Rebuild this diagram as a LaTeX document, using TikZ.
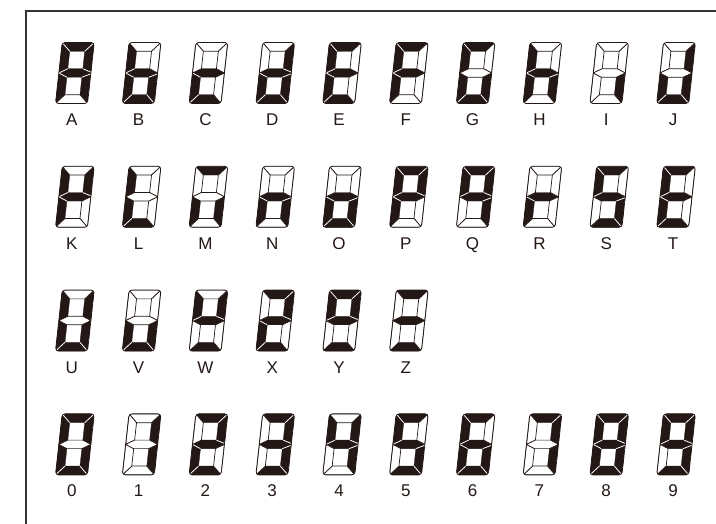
\documentclass[tikz,border=0pt]{standalone}
\usepackage{fontspec}
\setmainfont{Liberation Sans}
\definecolor{ink}{HTML}{231815}
\makeatletter
\def\sg@a{(0,61) -- (32,61) -- (23.5,52.2) -- (8.5,52.2) -- cycle}
\def\sg@b{(32,61) -- (32,30.5) -- (23.5,34.75) -- (23.5,52.2) -- cycle}
\def\sg@c{(32,30.5) -- (32,0) -- (23.5,8.8) -- (23.5,26.25) -- cycle}
\def\sg@d{(0,0) -- (32,0) -- (23.5,8.8) -- (8.5,8.8) -- cycle}
\def\sg@e{(0,0) -- (0,30.5) -- (8.5,26.25) -- (8.5,8.8) -- cycle}
\def\sg@f{(0,30.5) -- (0,61) -- (8.5,52.2) -- (8.5,34.75) -- cycle}
\def\sg@g{(0,30.5) -- (8.5,34.75) -- (23.5,34.75) -- (32,30.5) -- (23.5,26.25) -- (8.5,26.25) -- cycle}
\newcommand\drawsegs[2]{%
  \foreach \s in {a,b,c,d,e,f,g}{%
    \edef\sg@tmp{\noexpand\in@{\s}{#1}}\sg@tmp
    \ifnum#2=1
      \ifin@\edef\sg@cmd{\noexpand\path[onseg] \csname sg@\s\endcsname;}\sg@cmd\fi
    \else
      \ifin@\else\edef\sg@cmd{\noexpand\path[offseg] \csname sg@\s\endcsname;}\sg@cmd\fi
    \fi}}
% white separator between two lit segments
\newcommand\sepif[5]{% #1 list, #2 #3 segments, #4 #5 end points
  \in@{#2}{#1}\ifin@\in@{#3}{#1}\ifin@\draw[sepline] (#4) -- (#5);\fi\fi}
\newcommand\seps[1]{%
  \sepif{#1}{a}{f}{-1,62}{8.5,52.2}%
  \sepif{#1}{a}{b}{33,62}{23.5,52.2}%
  \sepif{#1}{f}{g}{-1,30}{8.5,34.75}%
  \sepif{#1}{e}{g}{-1,31}{8.5,26.25}%
  \sepif{#1}{b}{g}{33,31}{23.5,34.75}%
  \sepif{#1}{c}{g}{33,30}{23.5,26.25}%
  \sepif{#1}{d}{e}{-1,-1}{8.5,8.8}%
  \sepif{#1}{d}{c}{33,-1}{23.5,8.8}}
\newcommand\sevdigit[4]{% #1 x, #2 y, #3 label, #4 lit segments
  \begin{scope}[shift={(#1,#2)},xslant=0.11]
    \begin{scope}
      \clip[rounded corners=3pt] (0,0) -- (32,0) -- (32,61) -- (0,61) -- cycle;
      \drawsegs{#4}{1}
      \seps{#4}
      \drawsegs{#4}{0}
    \end{scope}
    \draw[digitframe] (0,0) -- (32,0) -- (32,61) -- (0,61) -- cycle;
  \end{scope}
  \node[lbl] (lbl#3) at (#1+16.3,#2-22) {#3};}
\makeatother
\tikzset{
  onseg/.style={fill=ink, draw=ink, line width=0.3pt, line join=miter},
  offseg/.style={fill=white, draw=ink, line width=0.7pt, line join=miter},
  sepline/.style={draw=white, line width=0.8pt},
  digitframe/.style={draw=ink, line width=0.8pt, rounded corners=3pt},
  lbl/.style={anchor=base, inner sep=0pt, text=ink, font=\fontsize{17}{20}\selectfont},
  framel/.style={draw=black!80, line width=1.2pt}
}
\begin{document}
\begin{tikzpicture}[x=1pt,y=1pt]
\useasboundingbox (0,0) rectangle (716,524);
\fill[white] (0,0) rectangle (716,524);
\coordinate (fb) at (26,0);
\coordinate (fc) at (26,513);
\coordinate (fr) at (716,513);
\draw[framel] (fb) -- (fc) -- (fr);
% row 1
\sevdigit{55.5}{420.5}{A}{abcefg}
\sevdigit{122.3}{420.5}{B}{cdefg}
\sevdigit{189.1}{420.5}{C}{deg}
\sevdigit{255.9}{420.5}{D}{bcdeg}
\sevdigit{322.7}{420.5}{E}{adefg}
\sevdigit{389.5}{420.5}{F}{aefg}
\sevdigit{456.3}{420.5}{G}{acdef}
\sevdigit{523.1}{420.5}{H}{cefg}
\sevdigit{589.9}{420.5}{I}{c}
\sevdigit{656.7}{420.5}{J}{bcde}
% row 2
\sevdigit{55.5}{296.7}{K}{befg}
\sevdigit{122.3}{296.7}{L}{def}
\sevdigit{189.1}{296.7}{M}{ace}
\sevdigit{255.9}{296.7}{N}{ceg}
\sevdigit{322.7}{296.7}{O}{cdeg}
\sevdigit{389.5}{296.7}{P}{abefg}
\sevdigit{456.3}{296.7}{Q}{abcfg}
\sevdigit{523.1}{296.7}{R}{eg}
\sevdigit{589.9}{296.7}{S}{acdfg}
\sevdigit{656.7}{296.7}{T}{adefg}
% row 3
\sevdigit{55.5}{172.9}{U}{bcdef}
\sevdigit{122.3}{172.9}{V}{cde}
\sevdigit{189.1}{172.9}{W}{bdfg}
\sevdigit{255.9}{172.9}{X}{abdeg}
\sevdigit{322.7}{172.9}{Y}{abdfg}
\sevdigit{389.5}{172.9}{Z}{adg}
% row 4
\sevdigit{55.5}{49.1}{0}{abcdef}
\sevdigit{122.3}{49.1}{1}{bc}
\sevdigit{189.1}{49.1}{2}{abdeg}
\sevdigit{255.9}{49.1}{3}{abcdg}
\sevdigit{322.7}{49.1}{4}{bcfg}
\sevdigit{389.5}{49.1}{5}{acdfg}
\sevdigit{456.3}{49.1}{6}{acdefg}
\sevdigit{523.1}{49.1}{7}{abc}
\sevdigit{589.9}{49.1}{8}{abcdefg}
\sevdigit{656.7}{49.1}{9}{abcdfg}
\end{tikzpicture}
\end{document}
